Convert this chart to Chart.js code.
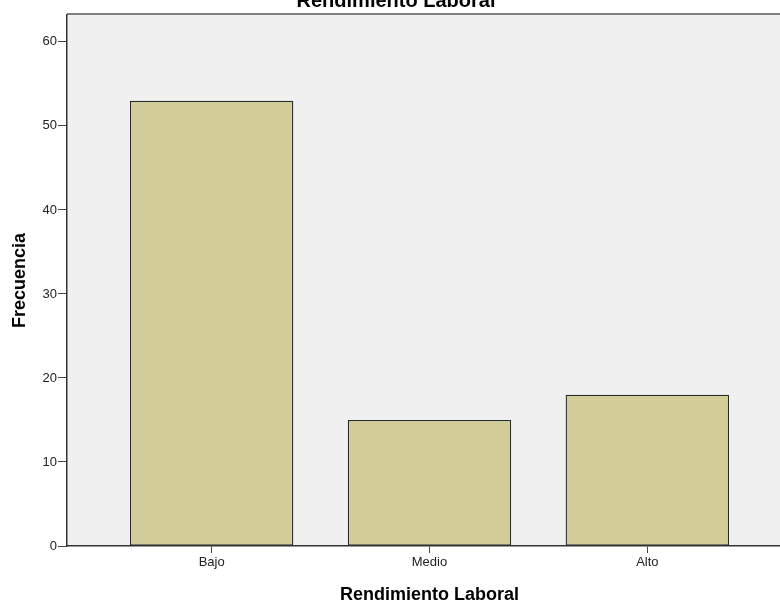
<!DOCTYPE html>
<html>
<head>
<meta charset="utf-8">
<script src="https://cdn.jsdelivr.net/npm/chart.js@4"></script>
<style>
  body { margin: 0; background: #fff; }
</style>
</head>
<body>
<canvas id="myChart" width="780" height="601"></canvas>
<script>
// datos del gráfico
const chartTitle = "Rendimiento Laboral";
const xTitle = "Rendimiento Laboral";
const yTitle = "Frecuencia";
const categories = ["Bajo", "Medio", "Alto"];
const frecuencias = [53, 15, 18];
const yTicks = [0, 10, 20, 30, 40, 50, 60];

const FONT = "'Liberation Sans', Arial, sans-serif";

// fondo gris, borde superior y títulos
const plotBackground = {
  id: "plotBackground",
  beforeDraw(chart) {
    const { ctx, chartArea } = chart;
    ctx.save();
    ctx.fillStyle = "#f0f0f0";
    ctx.fillRect(chartArea.left, chartArea.top, chart.width - chartArea.left, chartArea.bottom - chartArea.top);
    ctx.strokeStyle = "#808080";
    ctx.lineWidth = 2;
    ctx.beginPath();
    ctx.moveTo(chartArea.left, chartArea.top - 1);
    ctx.lineTo(chart.width, chartArea.top - 1);
    ctx.stroke();
    ctx.restore();
  },
  afterDraw(chart) {
    const { ctx } = chart;
    const x = chart.scales.x;
    ctx.save();
    ctx.fillStyle = "#000";
    ctx.textAlign = "center";
    ctx.textBaseline = "alphabetic";
    ctx.font = "bold 20px " + FONT;
    ctx.fillText(chartTitle, chart.width / 2 + 6, 7);
    // título del eje X centrado en la categoría del medio
    ctx.font = "bold 18px " + FONT;
    ctx.fillText(xTitle, x.getPixelForValue(2), 600);
    ctx.restore();
  }
};

const ctx = document.getElementById("myChart").getContext("2d");
const chart = new Chart(ctx, {
  type: "bar",
  data: {
    datasets: [{
      label: yTitle,
      data: frecuencias.map((v, i) => ({ x: i + 1, y: v })),
      backgroundColor: "#d2cd98",
      borderColor: "#2a2a2a",
      borderWidth: 1.3,
      borderSkipped: false,
      barPercentage: 0.75,
      categoryPercentage: 1
    }]
  },
  options: {
    responsive: false,
    animation: false,
    layout: { padding: { top: 15, right: 0, bottom: 0, left: 0 } },
    plugins: {
      legend: { display: false },
      tooltip: { enabled: false }
    },
    scales: {
      x: {
        type: "linear",
        offset: false,
        min: 0.336,
        max: 3.609,
        afterBuildTicks: (scale) => {
          scale.ticks = categories.map((c, i) => ({ value: i + 1 }));
        },
        afterFit: (scale) => { scale.height = 55; },
        grid: { offset: false, drawOnChartArea: false, tickLength: 7, color: "#444" },
        border: { display: true, color: "#333", width: 1.5 },
        ticks: {
          padding: 2,
          color: "#222",
          font: { family: FONT, size: 13 },
          callback: (v) => categories[v - 1]
        },
        title: { display: false }
      },
      y: {
        min: 0,
        max: 63.2,
        afterBuildTicks: (scale) => {
          scale.ticks = yTicks.map((v) => ({ value: v }));
        },
        afterFit: (scale) => { scale.width = 67; },
        grid: { drawOnChartArea: false, tickLength: 9, color: "#444" },
        border: { display: true, color: "#333", width: 1.5 },
        ticks: {
          padding: 1,
          color: "#222",
          font: { family: FONT, size: 13 }
        },
        title: {
          display: true,
          text: yTitle,
          color: "#000",
          font: { family: FONT, size: 18, weight: "bold" },
          padding: { top: 9, bottom: 0 }
        }
      }
    }
  },
  plugins: [plotBackground]
});
</script>
</body>
</html>
